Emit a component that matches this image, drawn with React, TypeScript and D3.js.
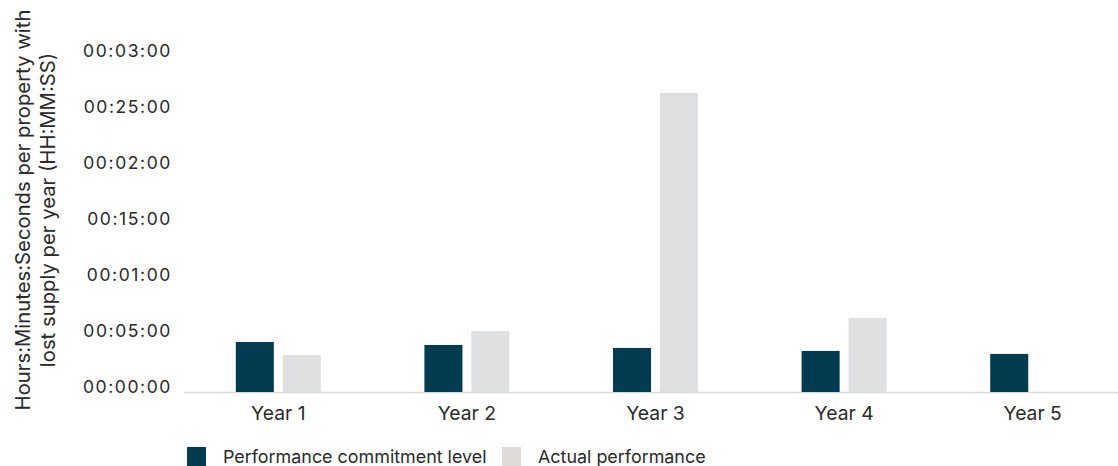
import * as React from 'react';
import * as d3 from "d3";

const years = ["Year 1", "Year 2", "Year 3", "Year 4", "Year 5"];
const seriesNames = ["Performance commitment level", "Actual performance"];
// seconds per property
const commitment = [268, 252, 236, 220, 204];
const actual: (number | null)[] = [198, 327, 1602, 396, null];
const tickValues = [0, 300, 600, 900, 1200, 1500, 1800];
const tickLabels = ["00:00:00", "00:05:00", "00:01:00", "00:15:00", "00:02:00", "00:25:00", "00:03:00"];
const titleLines = ["Hours:Minutes:Seconds per property with", "lost supply per year (HH:MM:SS)"];

const colors = ["#033c50", "#dfe0e2"];
const legendColors = ["#033c50", "#dcdbd8"];

const W = 1118, H = 466;
const font = "Inter, 'Noto Sans', sans-serif";
const textColor = "#2a2a2a";

export default function App() {
    const x0 = d3.scaleBand<string>().domain(years).range([184, 1127]);
    const x1 = d3.scaleBand<string>().domain(seriesNames).range([-42.5, 42.5]).paddingInner(0.19);
    const y = d3.scaleLinear().domain([0, 1800]).range([392, 56]);

    const rows = years.map((yr, i) => ({ yr, vals: [commitment[i], actual[i]] }));

    return (
        <svg width={W} height={H} style={{ position: "absolute", left: 0, top: 0 }} fontFamily={font}>
            <rect width={W} height={H} fill="#fff" />
            {/* y title */}
            {titleLines.map((t, i) => (
                <text key={t} transform={`translate(${30 + i * 25},210) rotate(-90)`} textAnchor="middle"
                    fontSize={20.3} fill={textColor}>{t}</text>
            ))}
            {/* tick labels */}
            {tickValues.map((v, i) => (
                <text key={v} x={172} y={y(v) - 5} dy="0.35em" textAnchor="end" fontSize={17.5}
                    letterSpacing={1.6} fill={textColor}>{tickLabels[i]}</text>
            ))}
            <line x1={184} x2={W} y1={392.5} y2={392.5} stroke="#dcdbd6" strokeWidth={1.5} />
            {rows.map(r => (
                <g key={r.yr} transform={`translate(${(x0(r.yr) || 0) + x0.bandwidth() / 2},0)`}>
                    {r.vals.map((v, j) => v == null ? null : (
                        <rect key={j} x={x1(seriesNames[j])} width={x1.bandwidth()}
                            y={y(v)} height={y(0) - y(v)} fill={colors[j]} />
                    ))}
                    <text x={0} y={413} dy="0.35em" textAnchor="middle" fontSize={19.3} fill={textColor}>{r.yr}</text>
                </g>
            ))}
            {/* legend */}
            {seriesNames.map((s, i) => {
                const lx = [187, 502][i];
                return (
                    <g key={s} transform={`translate(${lx},447)`}>
                        <rect width={19} height={19} fill={legendColors[i]} />
                        <text x={36} y={9.5} dy="0.35em" fontSize={17.9} fill={textColor}>{s}</text>
                    </g>
                );
            })}
        </svg>
    );
}
